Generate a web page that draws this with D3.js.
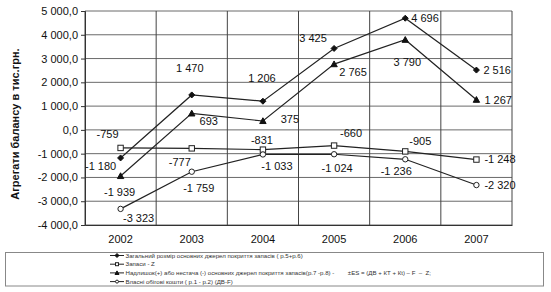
<!DOCTYPE html>
<html>
<head>
<meta charset="utf-8">
<script src="https://cdn.jsdelivr.net/npm/d3@7"></script>
<style>
  body { margin: 0; background: #fff; }
  svg { font-family: "Liberation Sans", Arial, sans-serif; }
</style>
</head>
<body>
<svg id="chart" width="551" height="292"></svg>
<script>
const years = ["2002", "2003", "2004", "2005", "2006", "2007"];
const totalSources = [-1180, 1470, 1206, 3425, 4696, 2516];
const stocks = [-759, -777, -831, -660, -905, -1248];
const surplus = [-1939, 693, 375, 2765, 3790, 1267];
const ownCapital = [-3323, -1759, -1033, -1024, -1236, -2320];
const yTicks = [5000, 4000, 3000, 2000, 1000, 0, -1000, -2000, -3000, -4000];

const legendNames = [
  "Загальний розмір основних джерел покриття запасів ( р.5+р.6)",
  "Запаси - Z",
  "Надлишок(+) або нестача (-) основних джерел покриття запасів(р.7 -р.8) -        ±ES = (ДВ + КТ + Кt) – F  –  Z;",
  "Власні обігові кошти ( р.1 - р.2) (ДВ-F)"
];

// label offsets [dx, dy] from each point
const labelPos = [
  [[-20, 8], [-2, -27], [-1, -23], [-21, -10], [18, 0], [19, 0]],
  [[-13, -14], [-12, 14], [-1, -9], [17, -12], [15, -10], [20, 0]],
  [[-1, 16], [17, 8], [27, -2], [19, 8], [2, 22], [20, 0]],
  [[18, 9], [7, 16], [14, 12], [3, 14], [-9, 12], [20, 0]]
];

const series = [
  { values: totalSources, marker: "diamond", fill: "#111" },
  { values: stocks, marker: "square", fill: "#fff" },
  { values: surplus, marker: "triangle", fill: "#111" },
  { values: ownCapital, marker: "circle", fill: "#fff" }
];

const svg = d3.select("#chart");
const plotL = 85, plotR = 512, plotT = 11, plotB = 225;

const x = d3.scaleBand().domain(years).range([plotL, plotR]);
const y = d3.scaleLinear().domain([-4000, 5000]).range([plotB, plotT]);

const fmt = v => d3.format(",")(v).replace(/,/g, " ").replace("−", "-");
const fmtTick = v => d3.format(",.1f")(v).replace(/,/g, " ").replace(".", ",").replace("−", "-");

// horizontal grid
svg.append("g").selectAll("line").data(yTicks).join("line")
  .attr("x1", plotL).attr("x2", plotR)
  .attr("y1", d => y(d)).attr("y2", d => y(d))
  .attr("stroke", "#6a6a6a").attr("stroke-width", 1);

// vertical grid at band edges
const edges = years.map(d => x(d)).concat([plotR]);
svg.append("g").selectAll("line").data(edges).join("line")
  .attr("x1", d => d).attr("x2", d => d)
  .attr("y1", plotT).attr("y2", plotB)
  .attr("stroke", "#444").attr("stroke-width", 1);

// y axis
const yAxis = svg.append("g").attr("transform", `translate(${plotL},0)`)
  .call(d3.axisLeft(y).tickValues(yTicks).tickFormat(fmtTick).tickSize(4).tickPadding(3));
yAxis.select(".domain").attr("stroke", "#333");
yAxis.selectAll(".tick line").attr("stroke", "#333");
yAxis.selectAll("text").attr("font-size", 11).attr("fill", "#111")
  .attr("font-family", "Liberation Sans, Arial, sans-serif");

// x axis
const xAxis = svg.append("g").attr("transform", `translate(0,${plotB})`)
  .call(d3.axisBottom(x).tickSize(0).tickPadding(10));
xAxis.select(".domain").attr("stroke", "#333");
xAxis.selectAll("text").attr("font-size", 11).attr("fill", "#111")
  .attr("font-family", "Liberation Sans, Arial, sans-serif");

// y label
svg.append("text")
  .attr("transform", "translate(19,124) rotate(-90)")
  .attr("text-anchor", "middle")
  .attr("font-size", 11).attr("font-weight", "bold").attr("fill", "#111")
  .text("Агрегати балансу в тис.грн.");

const cx = d => x(d) + x.bandwidth() / 2;
const line = d3.line().x((v, i) => cx(years[i])).y(v => y(v));

function drawMarker(g, type, fill, size) {
  const s = size;
  if (type === "diamond") {
    g.append("path").attr("d", `M0,${-s}L${s},0L0,${s}L${-s},0Z`).attr("fill", fill).attr("stroke", "#111");
  } else if (type === "square") {
    g.append("rect").attr("x", -s + 0.5).attr("y", -s + 0.5).attr("width", 2 * s - 1).attr("height", 2 * s - 1)
      .attr("fill", fill).attr("stroke", "#222");
  } else if (type === "triangle") {
    g.append("path").attr("d", `M0,${-s}L${s},${s * 0.8}L${-s},${s * 0.8}Z`).attr("fill", fill).attr("stroke", "#111");
  } else {
    g.append("circle").attr("r", s - 0.5).attr("fill", fill).attr("stroke", "#222");
  }
}

series.forEach((s, si) => {
  svg.append("path").datum(s.values)
    .attr("d", line).attr("fill", "none").attr("stroke", "#222").attr("stroke-width", 1.2);
  s.values.forEach((v, i) => {
    const g = svg.append("g").attr("transform", `translate(${cx(years[i])},${y(v)})`);
    drawMarker(g, s.marker, s.fill, s.marker === "diamond" ? 3 : 3.2);
  });
  svg.append("g").selectAll("text").data(s.values).join("text")
    .attr("x", (v, i) => cx(years[i]) + labelPos[si][i][0])
    .attr("y", (v, i) => y(v) + labelPos[si][i][1])
    .attr("dy", "0.35em")
    .attr("text-anchor", (v, i) => i === 5 || (si === 0 && i === 4) ? "start" : "middle")
    .attr("dx", (v, i) => i === 5 || (si === 0 && i === 4) ? -12 : 0)
    .attr("font-size", 11).attr("fill", "#111")
    .text(fmt);
});

// legend
svg.append("rect").attr("x", 5.5).attr("y", 252.5).attr("width", 538).attr("height", 33.5)
  .attr("fill", "#fff").attr("stroke", "#888");

const legend = svg.append("g").selectAll("g").data(series).join("g")
  .attr("transform", (d, i) => `translate(110,${255.5 + i * 8.7})`);
legend.append("line").attr("x1", 0).attr("x2", 14).attr("stroke", "#222").attr("stroke-width", 1);
legend.each(function (d) {
  const g = d3.select(this).append("g").attr("transform", "translate(7,0)");
  drawMarker(g, d.marker, d.fill, 2);
});
legend.append("text")
  .attr("x", 15.5).attr("dy", "0.35em")
  .attr("font-size", 6.1).attr("fill", "#333")
  .style("white-space", "pre")
  .text((d, i) => legendNames[i]);
</script>
</body>
</html>
